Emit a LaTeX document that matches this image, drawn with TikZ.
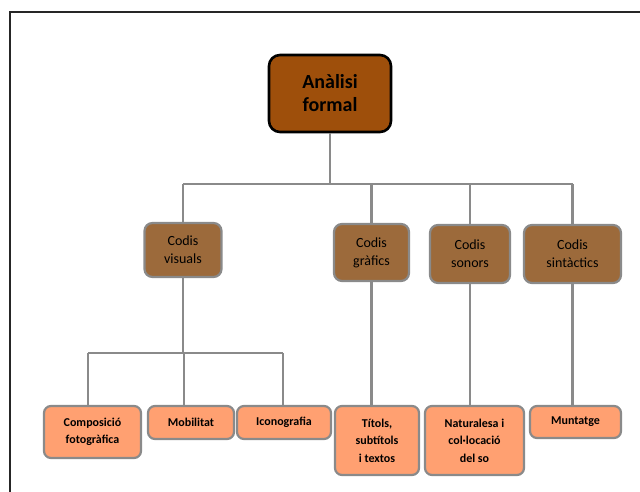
\documentclass[tikz,border=0pt]{standalone}
\usepackage{fontspec}
\setmainfont{Carlito}
\definecolor{rootfill}{HTML}{9E4F0B}
\definecolor{midfill}{HTML}{9C6A3B}
\definecolor{leaffill}{HTML}{FFA071}
\definecolor{edgegray}{HTML}{8A8A8A}
\definecolor{framegray}{HTML}{262626}
\begin{document}
\begin{tikzpicture}[x=1pt,y=1pt,
  rootbox/.style={draw=black, line width=2.6pt, fill=rootfill, rounded corners=11pt,
    align=center, inner sep=0pt, font=\fontsize{20}{23}\selectfont\bfseries},
  midbox/.style={draw=edgegray, line width=2.2pt, fill=midfill, rounded corners=8pt,
    align=center, inner sep=0pt, font=\fontsize{14}{18}\selectfont},
  leafbox/.style={draw=edgegray, line width=2.2pt, fill=leaffill, rounded corners=7pt,
    align=center, inner sep=0pt, font=\fontsize{12}{17.5}\selectfont\bfseries},
  link/.style={draw=edgegray, line width=2.1pt}]
\useasboundingbox (0,0) rectangle (640,491);
\draw[framegray, line width=2.6pt] (10,-2) -- (10,479) -- (642,479);

\node[rootbox, minimum width=122, minimum height=77] (root) at (330,397.5) {Anàlisi\\formal};

\node[midbox, minimum width=77, minimum height=54] (visuals) at (183,241) {Codis\\visuals};
\node[midbox, minimum width=75, minimum height=57] (grafics) at (371.5,238.5) {Codis\\gràfics};
\node[midbox, minimum width=80, minimum height=58] (sonors) at (470,237) {Codis\\sonors};
\node[midbox, minimum width=97, minimum height=58] (sintactics) at (572.5,237) {Codis\\sintàctics};

\node[leafbox, minimum width=97, minimum height=52] (composicio) at (92.5,59) {Composició\\fotogràfica};
\node[leafbox, minimum width=86, minimum height=33] (mobilitat) at (191,68.5) {Mobilitat};
\node[leafbox, minimum width=94, minimum height=33] (iconografia) at (284,68.5) {Iconografia};
\node[leafbox, minimum width=84, minimum height=69] (titols) at (377,50.5) {Títols,\\subtítols\\i textos};
\node[leafbox, minimum width=99, minimum height=69] (naturalesa) at (474.5,50.5) {Naturalesa i\\col·locació\\del so};
\node[leafbox, minimum width=91, minimum height=32] (muntatge) at (575.5,69) {Muntatge};

\coordinate (busA) at (0,307);
\coordinate (jc) at (88,138);
\coordinate (jm) at (184,138);
\coordinate (ji) at (283,138);

% top level bus
\draw[link] (root.south) -- (root.south |- busA);
\draw[link] (visuals.north |- busA) -- (sintactics.north |- busA);
\foreach \n in {visuals,grafics,sonors,sintactics}
  \draw[link] (\n.north) -- (\n.north |- busA);

% visuals bus
\draw[link] (visuals.south) -- (visuals.south |- jm);
\draw[link] (jc) -- (ji);
\draw[link] (jc) -- (jc |- composicio.north);
\draw[link] (jm) -- (jm |- mobilitat.north);
\draw[link] (ji) -- (ji |- iconografia.north);

% single children
\draw[link] (grafics.south) -- (grafics.south |- titols.north);
\draw[link] (sonors.south) -- (sonors.south |- naturalesa.north);
\draw[link] (sintactics.south) -- (sintactics.south |- muntatge.north);
\end{tikzpicture}
\end{document}
